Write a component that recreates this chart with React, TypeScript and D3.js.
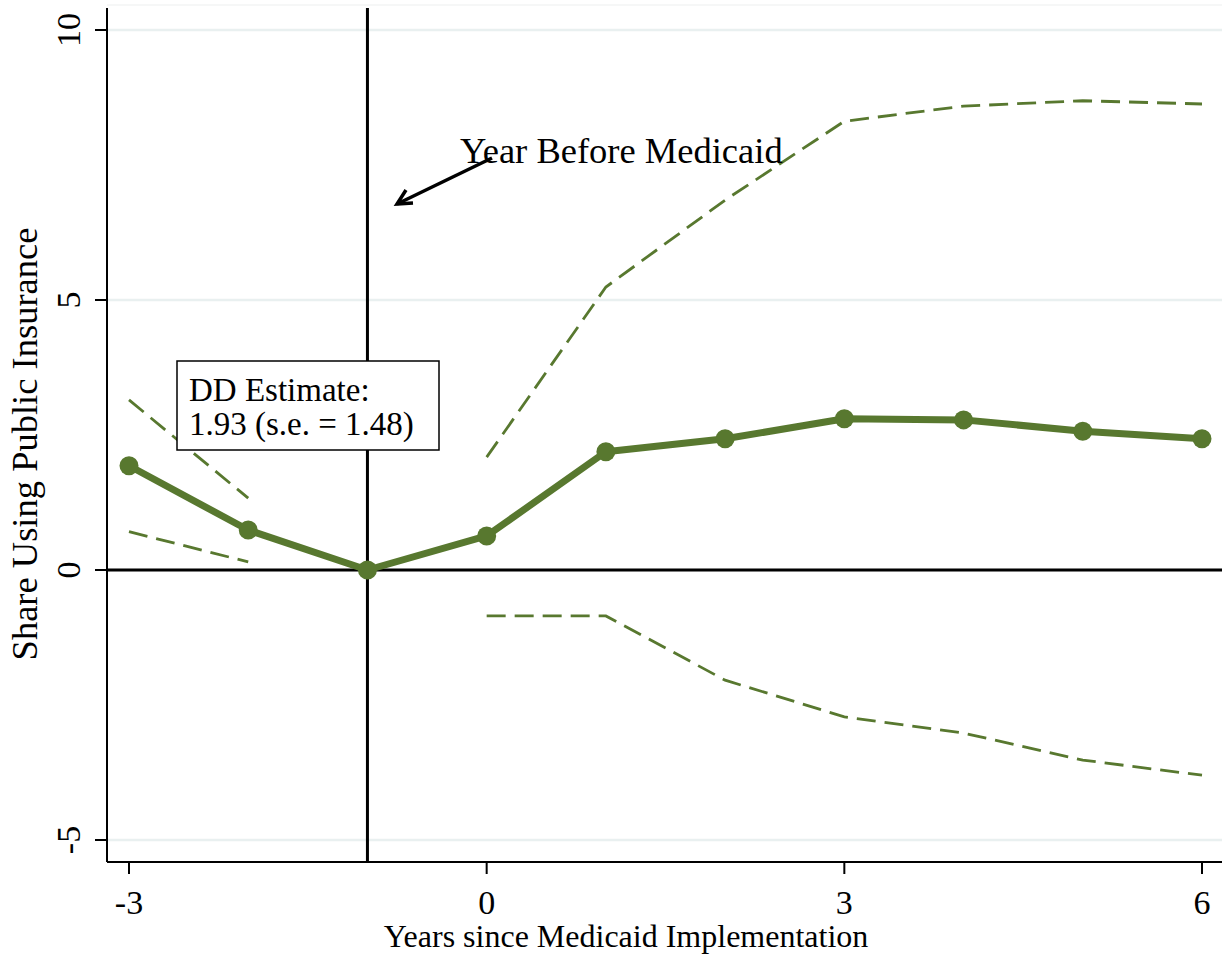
import React from "react";
import * as d3 from "d3";

const years = [-3, -2, -1, 0, 1, 2, 3, 4, 5, 6];
const estimate = [1.93, 0.74, 0, 0.63, 2.19, 2.43, 2.8, 2.78, 2.57, 2.43];
const upper: (number | null)[] = [3.15, 1.33, null, 2.09, 5.24, 6.85, 8.31, 8.59, 8.69, 8.63];
const lower: (number | null)[] = [0.71, 0.15, null, -0.85, -0.85, -2.04, -2.72, -3.02, -3.52, -3.8];
const xTicks = [-3, 0, 3, 6];
const yTicks = [-5, 0, 5, 10];
const eventYear = -1;
const xTitle = "Years since Medicaid Implementation";
const yTitle = "Share Using Public Insurance";
const boxLines = ["DD Estimate:", "1.93 (s.e. = 1.48)"];
const arrowLabel = "Year Before Medicaid";

const W = 1225;
const H = 961;
const plotLeft = 107;
const plotRight = 1222;
const plotTop = 5;
const plotBottom = 862;
const green = "#58782f";
const font = "'Liberation Serif', 'Times New Roman', serif";

export default function App() {
  const x = d3.scaleLinear().domain([-3, 6]).range([129, 1202]);
  const y = d3.scaleLinear().domain([-5, 10]).range([840, 30]);

  const mainLine = d3
    .line<number>()
    .x((_, i) => x(years[i]))
    .y((d) => y(d));

  const ciLine = d3
    .line<number | null>()
    .defined((d) => d !== null)
    .x((_, i) => x(years[i]))
    .y((d) => y(d as number));

  return (
    <svg
      width={W}
      height={H}
      style={{ position: "absolute", left: 0, top: 0, background: "#fff" }}
      fontFamily={font}
    >
      <rect x={0} y={0} width={W} height={H} fill="#fff" />
      <line x1={plotLeft} x2={plotRight} y1={plotTop} y2={plotTop} stroke="#f3f5f5" strokeWidth={1.5} />
      {yTicks.map((t) => (
        <line key={"g" + t} x1={plotLeft} x2={plotRight} y1={y(t)} y2={y(t)} stroke="#e9f0f0" strokeWidth={2.5} />
      ))}
      <line x1={plotLeft} x2={plotLeft} y1={plotTop + 3} y2={plotBottom} stroke="#000" strokeWidth={2} />
      <line x1={plotLeft} x2={plotRight} y1={plotBottom} y2={plotBottom} stroke="#000" strokeWidth={2} />
      {yTicks.map((t) => (
        <g key={"yt" + t}>
          <line x1={plotLeft - 12} x2={plotLeft} y1={y(t)} y2={y(t)} stroke="#000" strokeWidth={2} />
          <text
            transform={`translate(80,${y(t)}) rotate(-90)`}
            textAnchor="middle"
            fontSize={34}
            fill="#000"
          >
            {t}
          </text>
        </g>
      ))}
      {xTicks.map((t) => (
        <g key={"xt" + t}>
          <line x1={x(t)} x2={x(t)} y1={plotBottom} y2={plotBottom + 12} stroke="#000" strokeWidth={2} />
          <text x={x(t)} y={914} textAnchor="middle" fontSize={34} fill="#000">
            {t}
          </text>
        </g>
      ))}
      <text x={626} y={947} textAnchor="middle" fontSize={32} fill="#000">
        {xTitle}
      </text>
      <text transform={`translate(37,444) rotate(-90)`} textAnchor="middle" fontSize={36.5} fill="#000">
        {yTitle}
      </text>
      <line x1={plotLeft} x2={plotRight} y1={y(0)} y2={y(0)} stroke="#000" strokeWidth={3} />
      <line x1={x(eventYear)} x2={x(eventYear)} y1={plotTop + 3} y2={plotBottom} stroke="#000" strokeWidth={3} />
      <path d={ciLine(upper) || ""} fill="none" stroke={green} strokeWidth={2.8} strokeDasharray="19 9" />
      <path d={ciLine(lower) || ""} fill="none" stroke={green} strokeWidth={2.8} strokeDasharray="19 9" />
      <path d={mainLine(estimate) || ""} fill="none" stroke={green} strokeWidth={7} strokeLinejoin="round" />
      {estimate.map((v, i) => (
        <circle key={"m" + i} cx={x(years[i])} cy={y(v)} r={9.5} fill={green} />
      ))}
      <rect x={177} y={361} width={262} height={89} fill="#fff" stroke="#000" strokeWidth={1.5} />
      {boxLines.map((s, i) => (
        <text key={"b" + i} x={189} y={401 + i * 34} fontSize={33} fill="#000">
          {s}
        </text>
      ))}
      <text x={460} y={163} fontSize={36.5} fill="#000">
        {arrowLabel}
      </text>
      <line x1={492} x2={397} y1={158} y2={204} stroke="#000" strokeWidth={3.5} />
      <polyline
        points={`${397 + 16},${204 - 1} ${397},${204} ${397 + 9},${204 - 14}`}
        fill="none"
        stroke="#000"
        strokeWidth={3.5}
      />
    </svg>
  );
}
